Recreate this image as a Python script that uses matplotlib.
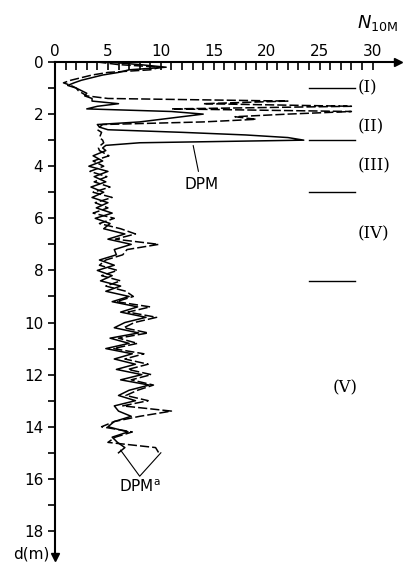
import numpy as np
from matplotlib import pyplot as plt

# upper part, 0.0-3.3 m every 0.1 m
top_solid = [5, 8, 10.5, 7, 6, 4.5, 3.5, 2.5, 1.8, 1.2, 2.0, 2.5, 3.0, 2.8, 3.5, 3.5, 6, 4,
             3, 11, 14, 12, 10, 8, 4.0, 4.2, 5, 12, 18, 22, 23.5, 8, 4.8, 4.5]
top_dash = [4, 6, 10, 9, 5, 3.5, 2.5, 1.5, 0.8, 1.5, 2.0, 2.2, 2.6, 3.0, 5, 22, 14, 28,
            11, 28, 22, 17, 19, 14, 4.5, 4.2, 4.0, 4.4, 4.3, 4.2, 4.5, 4.6, 4.3, 4.1]
# lower part, 3.4-15.0 m
low_solid = [4.8, 3.6, 4.5, 3.2, 5.0, 3.7, 4.8, 3.4, 4.6, 3.5, 5.0, 3.9, 5.4, 3.8, 5.2, 4.6,
             6.6, 5.0, 7.2, 5.6, 5.8, 4.2, 5.6, 4.0, 5.4, 4.3, 6.2, 4.8, 7.0, 5.4, 7.8, 6.2,
             8.6, 6.6, 5.6, 7.9, 5.2, 7.0, 4.8, 7.3, 5.6, 7.6, 5.8, 8.2, 6.2, 8.9, 7.0, 6.0,
             7.6, 5.6, 6.0, 7.2, 5.6, 5.0, 6.9, 5.4, 5.9, 6.6, 6.0]
low_dash = [4.2, 5.1, 3.6, 4.6, 3.3, 4.9, 3.7, 5.2, 3.6, 5.4, 3.8, 5.0, 3.6, 5.6, 4.2, 6.2,
            7.6, 5.7, 9.8, 6.8, 6.4, 4.8, 4.2, 5.9, 4.4, 6.2, 4.8, 6.7, 7.4, 5.8, 9.0, 6.9,
            9.6, 7.5, 6.5, 8.8, 6.0, 7.8, 5.5, 8.4, 6.6, 8.8, 6.9, 9.1, 7.2, 9.3, 7.8, 6.7,
            8.8, 6.4, 11.0, 8.0, 5.6, 4.4, 7.3, 5.7, 5.0, 9.5, 9.8]

zones = ['(I)', '(II)', '(III)', '(IV)', '(V)']
zone_depths = [1.0, 2.5, 4.0, 6.6, 12.5]
bounds = [1.0, 3.0, 5.0, 8.4]

d_solid = np.concatenate([np.linspace(0, 3.3, len(top_solid)), np.linspace(3.4, 15.0, len(low_solid))])
d_dash = np.concatenate([np.linspace(0, 3.3, len(top_dash)), np.linspace(3.4, 15.0, len(low_dash))])
solid = top_solid + low_solid
dash = top_dash + low_dash

fig = plt.figure(figsize=(4.11, 5.72), dpi=100)
ax = fig.add_axes([55/411, 1 - 557/572, 343/411, 495/572])
ax.set_xlim(0, 32.4)
ax.set_ylim(19, 0)

ax.plot(solid, d_solid, c='black', lw=1.1)
ax.plot(dash, d_dash, c='black', lw=1.1, ls=(0, (6, 2)))

for s in ['right', 'bottom']:
    ax.spines[s].set_visible(False)
ax.spines['top'].set_linewidth(1.5)
ax.spines['left'].set_linewidth(1.5)
ax.plot(1, 1, '>k', transform=ax.transAxes, clip_on=False, ms=6)
ax.plot(0, 0, 'vk', transform=ax.transAxes, clip_on=False, ms=6)

ax.xaxis.tick_top()
ax.set_xticks(range(0, 31, 5))
ax.set_xticks(range(0, 31), minor=True)
ax.tick_params(axis='x', which='both', direction='in', length=6, width=1.2, labelsize=11, pad=2)
ax.set_yticks(range(0, 19, 2))
ax.set_yticks(range(0, 19), minor=True)
ax.tick_params(axis='y', which='both', direction='out', length=5, width=1.2, labelsize=11)

ax.text(30.5, -1.3, '$N_{\\mathrm{10M}}$', fontsize=13, ha='center')
ax.text(-2.2, 18.9, 'd(m)', fontsize=11, ha='center', va='center')

for b in bounds:
    ax.plot([24, 28.3], [b, b], c='black', lw=1)
for z, zd in zip(zones, zone_depths):
    ax.text(28.6 if z != '(V)' else 26.2, zd, z, family='DejaVu Serif', fontsize=12,
            va='center', ha='left')

ax.annotate('DPM', xy=(13, 3.1), xytext=(13.8, 4.7), fontsize=11, ha='center', va='center',
            arrowprops=dict(arrowstyle='-', lw=0.8))
ax.text(8.0, 16.3, 'DPM$^{\\mathrm{a}}$', fontsize=11, ha='center', va='center')
ax.plot([6.2, 8.0, 10], [14.9, 15.9, 15.0], c='black', lw=0.8)

fig.savefig('out.png')
